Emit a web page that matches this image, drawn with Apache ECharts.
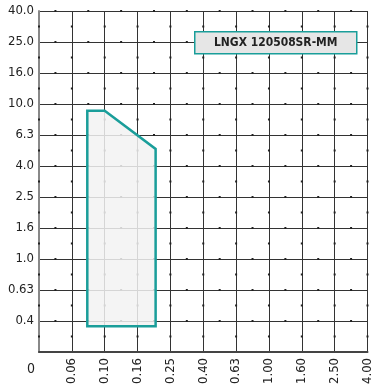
<!DOCTYPE html>
<html><head><meta charset="utf-8">
<script src="https://cdn.jsdelivr.net/npm/echarts@6/dist/echarts.min.js"></script>
<style>html,body{margin:0;padding:0;background:#fff}#c{width:374px;height:387px}</style>
</head><body><div id="c"></div>
<script>
// Axis tick labels (evenly spaced, geometric series)
var xLabels = ['0','0.06','0.10','0.16','0.25','0.40','0.63','1.00','1.60','2.50','4.00'];
var yLabels = ['','0.4','0.63','1.0','1.6','2.5','4.0','6.3','10.0','16.0','25.0','40.0'];
// Chip-breaker application area outline, in axis-position units
var areaFeedPos = [1.47, 1.47, 2.0, 3.55, 3.55];
var areaDepthPos = [0.83, 7.78, 7.78, 6.55, 0.83];
var seriesName = 'LNGX 120508SR-MM';

var FONT = '"DejaVu Sans Condensed","Liberation Sans Narrow",sans-serif';
var chart = echarts.init(document.getElementById('c'));

var polyData = areaFeedPos.map(function(f,i){return [f, areaDepthPos[i]];});

// minor grid dots at half positions along each grid line
var dotData = [];
for (var i = 0; i <= 10; i++) for (var j = 0; j < 11; j++) dotData.push([i, j + 0.5]);
for (var j2 = 1; j2 <= 11; j2++) for (var i2 = 0; i2 < 10; i2++) dotData.push([i2 + 0.5, j2]);

chart.setOption({
  animation: false,
  grid: {left: 39, right: 5, top: 11, bottom: 30, containLabel: false},
  xAxis: {
    type: 'value', min: 0, max: 10, interval: 1,
    axisLine: {show: true, onZero: false, lineStyle: {color: '#444', width: 2}},
    axisTick: {show: false},
    splitLine: {show: true, lineStyle: {color: '#333', width: 1}},
    axisLabel: {rotate: 90, margin: 6, fontFamily: FONT, fontSize: 13, color: '#222',
      formatter: function(v){ return v === 0 ? '' : (xLabels[v] || ''); }}
  },
  yAxis: {
    type: 'value', min: 0, max: 11, interval: 1,
    axisLine: {show: true, onZero: false, lineStyle: {color: '#888', width: 2}},
    axisTick: {show: false},
    splitLine: {show: true, lineStyle: {color: '#333', width: 1}},
    axisLabel: {margin: 5, fontFamily: FONT, fontSize: 13, color: '#222',
      formatter: function(v){ return yLabels[v] || ''; }}
  },
  graphic: [
    {type: 'text', left: 27, top: 362, z: 100, style: {text: '0', font: '14px ' + FONT, fill: '#222'}},
    {type: 'group', left: 194, top: 31, z: 100, children: [
      {type: 'rect', z: 100, shape: {x: 0, y: 0, width: 162, height: 22},
       style: {fill: '#e6e6e6', stroke: '#1a9e9a', lineWidth: 1.5}},
      {type: 'text', z: 101, x: 81, y: 11, scaleX: 0.92, style: {x: 0, y: 0, text: seriesName, font: 'bold 13px ' + FONT,
        fill: '#222', align: 'center', verticalAlign: 'middle'}}
    ]}
  ],
  series: [
    {
      type: 'custom', coordinateSystem: 'cartesian2d', data: dotData, silent: true, z: 1,
      renderItem: function(params, api){
        var p = api.coord([api.value(0), api.value(1)]);
        return {type: 'rect', shape: {x: p[0] - 1, y: p[1] - 1, width: 2, height: 2},
                style: {fill: '#222'}};
      }
    },
    {
      type: 'custom', coordinateSystem: 'cartesian2d', data: [0], silent: true, z: 5,
      renderItem: function(params, api){
        var pts = polyData.map(function(d){ return api.coord(d); });
        return {type: 'polygon', shape: {points: pts},
                style: {fill: 'rgba(242,242,242,0.85)', stroke: '#1a9e9a', lineWidth: 2.5}};
      }
    }
  ]
});
</script></body></html>
